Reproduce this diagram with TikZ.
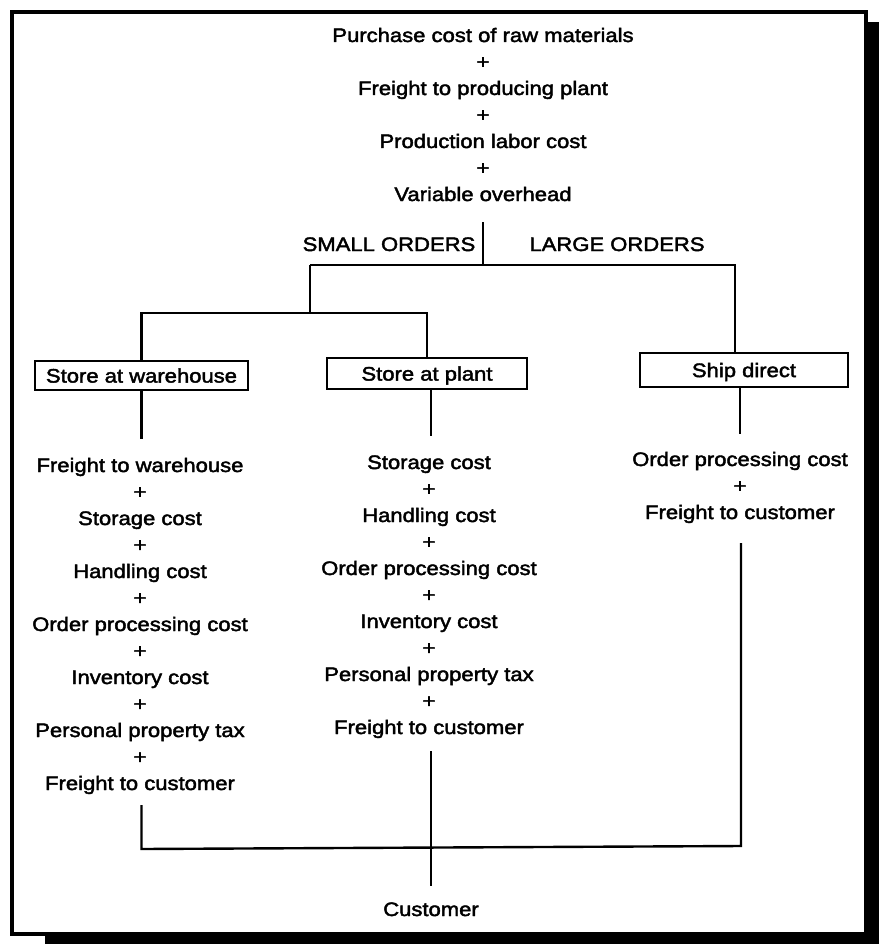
\documentclass[tikz,border=0pt]{standalone}
\usepackage{fontspec}
\setmainfont{Liberation Sans}[FakeStretch=1.13,FakeBold=2.2]
\begin{document}
\begin{tikzpicture}[x=1pt,y=-1pt,
  txt/.style={font=\fontsize{19.5}{23}\selectfont, inner sep=0pt, anchor=base},
  choice/.style={draw, line width=2.4pt, inner sep=0pt,
    font=\fontsize{19.5}{23}\selectfont, text depth=0pt},
  conn/.style={line width=2.4pt}]
\useasboundingbox (0,0) rectangle (879,944);

% outer frame with drop shadow
\fill (866,22) rectangle (879,944);
\fill (45,934) rectangle (879,944);
\draw[line width=3.2pt] (12,12) rectangle (866,934);

% production costs common to every route
\foreach \s [count=\i] in {Purchase cost of raw materials,+,Freight to producing plant,+,Production labor cost,+,Variable overhead}
  \node[txt] (t\i) at (483,{42+(\i-1)*26.5}) {\s};

\node[txt] (small) at (389,251) {SMALL ORDERS};
\node[txt] (large) at (617,251) {LARGE ORDERS};

% the three distribution choices
\node[choice, minimum width=213pt, minimum height=29pt] (wh) at (141.5,375.5) {Store at warehouse};
\node[choice, minimum width=200pt, minimum height=31pt] (plant) at (427,373.5) {Store at plant};
\node[choice, minimum width=208pt, minimum height=34pt] (ship) at (744,370) {Ship direct};

% cost chains below each choice
\foreach \s [count=\i] in {Freight to warehouse,+,Storage cost,+,Handling cost,+,Order processing cost,+,Inventory cost,+,Personal property tax,+,Freight to customer}
  \node[txt] (w\i) at (140,{472+(\i-1)*26.5}) {\s};
\foreach \s [count=\i] in {Storage cost,+,Handling cost,+,Order processing cost,+,Inventory cost,+,Personal property tax,+,Freight to customer}
  \node[txt] (p\i) at (429,{469+(\i-1)*26.5}) {\s};
\foreach \s [count=\i] in {Order processing cost,+,Freight to customer}
  \node[txt] (r\i) at (740,{466+(\i-1)*26.5}) {\s};

\node[txt] (cust) at (431,916) {Customer};

% branching tree
\coordinate (forkTop) at (483,222);
\coordinate (forkMid) at (483,265);
\coordinate (forkL) at (310,265);
\coordinate (forkR) at (735,265);
\coordinate (forkLow) at (310,313);
\draw[conn] (forkTop) -- (forkMid);
\draw[conn] (forkL) -- (forkR) -- (forkR |- ship.north);
\draw[conn] (forkL) -- (forkLow);
\draw[conn] (wh.north) |- (plant.north |- forkLow) -- (plant.north);

% links from choices to their cost chains
\draw[conn] (wh.south) -- ++(0,48);
\draw[conn] (plant.south -| cust.base) -- ++(0,46);
\draw[conn] (ship.south -| r1.base) -- ++(0,46);

% routes merging to the customer
\coordinate (joinL) at (141.5,849);
\coordinate (joinR) at (741,846);
\draw[conn] ([yshift=-15pt]w13.base -| joinL) -- (joinL) -- (joinR) -- ([yshift=-24pt]r3.base -| joinR);
\draw[conn] ([yshift=-17pt]p11.base -| cust.north) -- ([yshift=16pt]cust.north);
\end{tikzpicture}
\end{document}
